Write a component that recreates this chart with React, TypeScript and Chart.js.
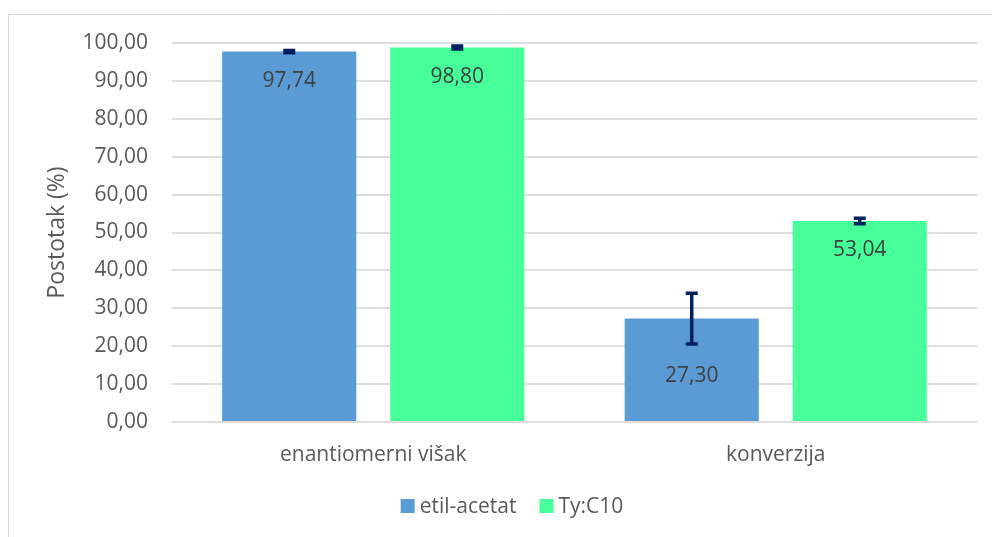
import React, { useEffect, useRef } from "react";
import { Chart, registerables } from "chart.js";

Chart.register(...registerables);

const categories = ["enantiomerni višak", "konverzija"];
const seriesNames = ["etil-acetat", "Ty:C10"];
const etilValues = [97.74, 27.3];
const etilErrors = [0.3, 6.7];
const tyValues = [98.8, 53.04];
const tyErrors = [0.4, 0.7];
const yMin = 0;
const yMax = 100;
const yStep = 10;

const FONT = "'Open Sans', sans-serif";
const fmt = (v: number) => v.toFixed(2).replace(".", ",");

const framePlugin = {
  id: "frame",
  beforeDraw(chart: any) {
    const ctx = chart.ctx;
    ctx.save();
    ctx.fillStyle = "#ffffff";
    ctx.fillRect(0, 0, chart.width, chart.height);
    ctx.strokeStyle = "#d9d9d9";
    ctx.lineWidth = 1;
    ctx.beginPath();
    ctx.moveTo(8.5, chart.height);
    ctx.lineTo(8.5, 14.5);
    ctx.lineTo(chart.width, 14.5);
    ctx.stroke();
    ctx.restore();
  },
};

const errorBarPlugin = {
  id: "errorBars",
  afterDatasetsDraw(chart: any) {
    const ctx = chart.ctx;
    const yScale = chart.scales.y;
    ctx.save();
    ctx.strokeStyle = "#002060";
    ctx.lineWidth = 3.5;
    chart.data.datasets.forEach((ds: any, i: number) => {
      const meta = chart.getDatasetMeta(i);
      meta.data.forEach((el: any, j: number) => {
        const v = ds.data[j];
        const e = ds.errors[j];
        const yHi = yScale.getPixelForValue(v + e);
        const yLo = yScale.getPixelForValue(v - e);
        const x = el.x;
        ctx.beginPath();
        ctx.moveTo(x, yHi);
        ctx.lineTo(x, yLo);
        ctx.moveTo(x - 6, yHi);
        ctx.lineTo(x + 6, yHi);
        ctx.moveTo(x - 6, yLo);
        ctx.lineTo(x + 6, yLo);
        ctx.stroke();
      });
    });
    ctx.restore();
  },
};

const labelPlugin = {
  id: "valueLabels",
  afterDatasetsDraw(chart: any) {
    const ctx = chart.ctx;
    const yScale = chart.scales.y;
    ctx.save();
    ctx.font = `21px ${FONT}`;
    ctx.fillStyle = "#404040";
    ctx.textAlign = "center";
    ctx.textBaseline = "alphabetic";
    chart.data.datasets.forEach((ds: any, i: number) => {
      const meta = chart.getDatasetMeta(i);
      meta.data.forEach((el: any, j: number) => {
        const v = ds.data[j];
        const e = ds.errors[j];
        const top = el.y;
        const lo = yScale.getPixelForValue(v - e);
        const base = lo > top + 10 ? lo + 38 : top + 35;
        ctx.fillText(fmt(v), el.x, base);
      });
    });
    ctx.restore();
  },
};

const legendPlugin = {
  id: "customLegend",
  afterDraw(chart: any) {
    const ctx = chart.ctx;
    ctx.save();
    ctx.font = `21px ${FONT}`;
    ctx.textBaseline = "alphabetic";
    ctx.textAlign = "left";
    const box = 14;
    const gapText = 5;
    const gapItem = 23;
    const items = chart.data.datasets.map((ds: any) => ({
      label: ds.label,
      color: ds.backgroundColor,
      w: ctx.measureText(ds.label).width,
    }));
    let total = 0;
    items.forEach((it: any, k: number) => {
      total += box + gapText + it.w + (k > 0 ? gapItem : 0);
    });
    let x = 512 - total / 2;
    const baseline = 513;
    items.forEach((it: any) => {
      ctx.fillStyle = it.color;
      ctx.fillRect(x, baseline - box, box, box);
      ctx.fillStyle = "#595959";
      ctx.fillText(it.label, x + box + gapText, baseline);
      x += box + gapText + it.w + gapItem;
    });
    ctx.restore();
  },
};

export default function App() {
  const ref = useRef<HTMLCanvasElement>(null);
  useEffect(() => {
    if (!ref.current) return;
    const chart = new Chart(ref.current, {
      type: "bar",
      data: {
        labels: categories,
        datasets: [
          {
            label: seriesNames[0],
            data: etilValues,
            errors: etilErrors,
            backgroundColor: "#5B9BD5",
            categoryPercentage: 0.835,
            barPercentage: 0.798,
          } as any,
          {
            label: seriesNames[1],
            data: tyValues,
            errors: tyErrors,
            backgroundColor: "#46FF98",
            categoryPercentage: 0.835,
            barPercentage: 0.798,
          } as any,
        ],
      },
      options: {
        responsive: false,
        animation: false,
        devicePixelRatio: 1,
        layout: { padding: { left: 0, right: 15, top: 43, bottom: 0 } },
        plugins: {
          legend: { display: false },
          tooltip: { enabled: false },
        },
        scales: {
          x: {
            grid: { display: false, drawTicks: false },
            border: { display: false },
            ticks: {
              padding: 20,
              color: "#595959",
              font: { family: FONT, size: 21 },
            },
            afterFit: (s: any) => {
              s.height = 115;
            },
          },
          y: {
            min: yMin,
            max: yMax,
            grid: { color: "#dedede", lineWidth: 2, drawTicks: false },
            border: { display: false },
            ticks: {
              stepSize: yStep,
              padding: 24,
              color: "#595959",
              font: { family: FONT, size: 21 },
              callback: (v: any) => fmt(Number(v)),
            },
            title: {
              display: true,
              text: "Postotak (%)",
              color: "#595959",
              font: { family: FONT, size: 23 },
              padding: { top: 44, bottom: 0 },
            },
            afterFit: (s: any) => {
              s.width = 172;
            },
          },
        },
      },
      plugins: [framePlugin, errorBarPlugin, labelPlugin, legendPlugin],
    });
    return () => chart.destroy();
  }, []);
  return (
    <div style={{ position: "absolute", left: 0, top: 0, width: 992, height: 537 }}>
      <canvas ref={ref} width={992} height={537} />
    </div>
  );
}
